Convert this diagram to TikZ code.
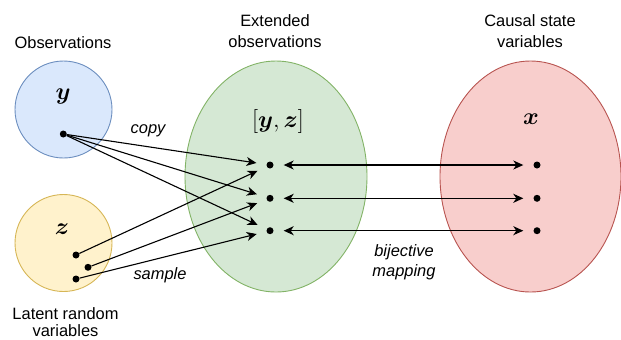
\RequirePackage{fix-cm}
\documentclass[tikz,border=0pt]{standalone}
\usepackage{bm}
\usepackage{fontspec}
\setmainfont{Liberation Sans}
\usetikzlibrary{arrows.meta,shapes.geometric}
\definecolor{blueF}{HTML}{DAE8FC}\definecolor{blueD}{HTML}{6C8EBF}
\definecolor{yelF}{HTML}{FFF2CC}\definecolor{yelD}{HTML}{D6B656}
\definecolor{grnF}{HTML}{D5E8D4}\definecolor{grnD}{HTML}{82B366}
\definecolor{redF}{HTML}{F8CECC}\definecolor{redD}{HTML}{B85450}
\tikzset{
  setshape/.style={ellipse,inner sep=0pt,line width=0.9bp},
  dotnode/.style={circle,fill=black,inner sep=0pt,minimum size=7bp},
  lbl/.style={anchor=base,inner sep=0pt,font=\fontsize{16.5}{20}\selectfont},
  ilbl/.style={lbl,font=\fontsize{16.5}{20}\selectfont\itshape},
  mlbl/.style={anchor=base,inner sep=0pt,font=\fontsize{24}{28}\selectfont},
  conn/.style={line width=1.1bp,-{Stealth[length=10bp,width=9bp,inset=3bp]},shorten >=10bp},
  bconn/.style={line width=1.1bp,{Stealth[length=10bp,width=9bp,inset=3bp]}-{Stealth[length=10bp,width=9bp,inset=3bp]},shorten >=10bp,shorten <=10bp}
}
\begin{document}
\begin{tikzpicture}[x=1bp,y=-1bp]
\useasboundingbox (0,0) rectangle (621,339);
% sets
\node[setshape,draw=blueD,fill=blueF,minimum width=97bp,minimum height=97bp] (obs) at (63.5,109.5) {};
\node[setshape,draw=yelD,fill=yelF,minimum width=97bp,minimum height=97bp] (lat) at (63.5,243) {};
\node[setshape,draw=grnD,fill=grnF,minimum width=182bp,minimum height=231bp] (ext) at (276,176.5) {};
\node[setshape,draw=redD,fill=redF,minimum width=181bp,minimum height=231bp] (cau) at (530.5,176.5) {};
% math labels
\node[mlbl] (ylab) at (63,99) {$\bm{y}$};
\node[mlbl] (zlab) at (62,234) {$\bm{z}$};
\node[mlbl] (yzlab) at (278,127) {$[\bm{y},\bm{z}]$};
\node[mlbl] (xlab) at (531,124) {$\bm{x}$};
% captions
\node[lbl] (obsT) at (63,48) {Observations};
\node[lbl] (extT1) at (275,26) {Extended};
\node[lbl] (extT2) at (275,47.5) {observations};
\node[lbl] (cauT1) at (530,26) {Causal state};
\node[lbl] (cauT2) at (530,47.5) {variables};
\node[lbl] (latT1) at (65.5,319) {Latent random};
\node[lbl] (latT2) at (65.5,336.5) {variables};
\node[ilbl] (copyT) at (148,133) {copy};
\node[ilbl] (sampT) at (160,279) {sample};
\node[ilbl] (bijT1) at (404,256) {bijective};
\node[ilbl] (bijT2) at (404,276.5) {mapping};
% dots
\node[dotnode] (yd) at (63.3,134) {};
\node[dotnode] (z1) at (76,255) {};
\node[dotnode] (z2) at (88,267.3) {};
\node[dotnode] (z3) at (76,279) {};
\node[dotnode] (g1) at (270,165) {};
\node[dotnode] (g2) at (270,198.3) {};
\node[dotnode] (g3) at (270,230.7) {};
\node[dotnode] (r1) at (537,165) {};
\node[dotnode] (r2) at (537,198.3) {};
\node[dotnode] (r3) at (537,230.7) {};
% connectors
\draw[conn] (yd) -- (g1);
\draw[conn] (yd) -- (g2);
\draw[conn] (yd) -- (g3);
\draw[conn] (z1) -- (g1);
\draw[conn] (z2) -- (g2);
\draw[conn] (z3) -- (g3);
\draw[bconn] (g1) -- (r1);
\draw[bconn] (g2) -- (r2);
\draw[bconn] (g3) -- (r3);
\end{tikzpicture}
\end{document}
